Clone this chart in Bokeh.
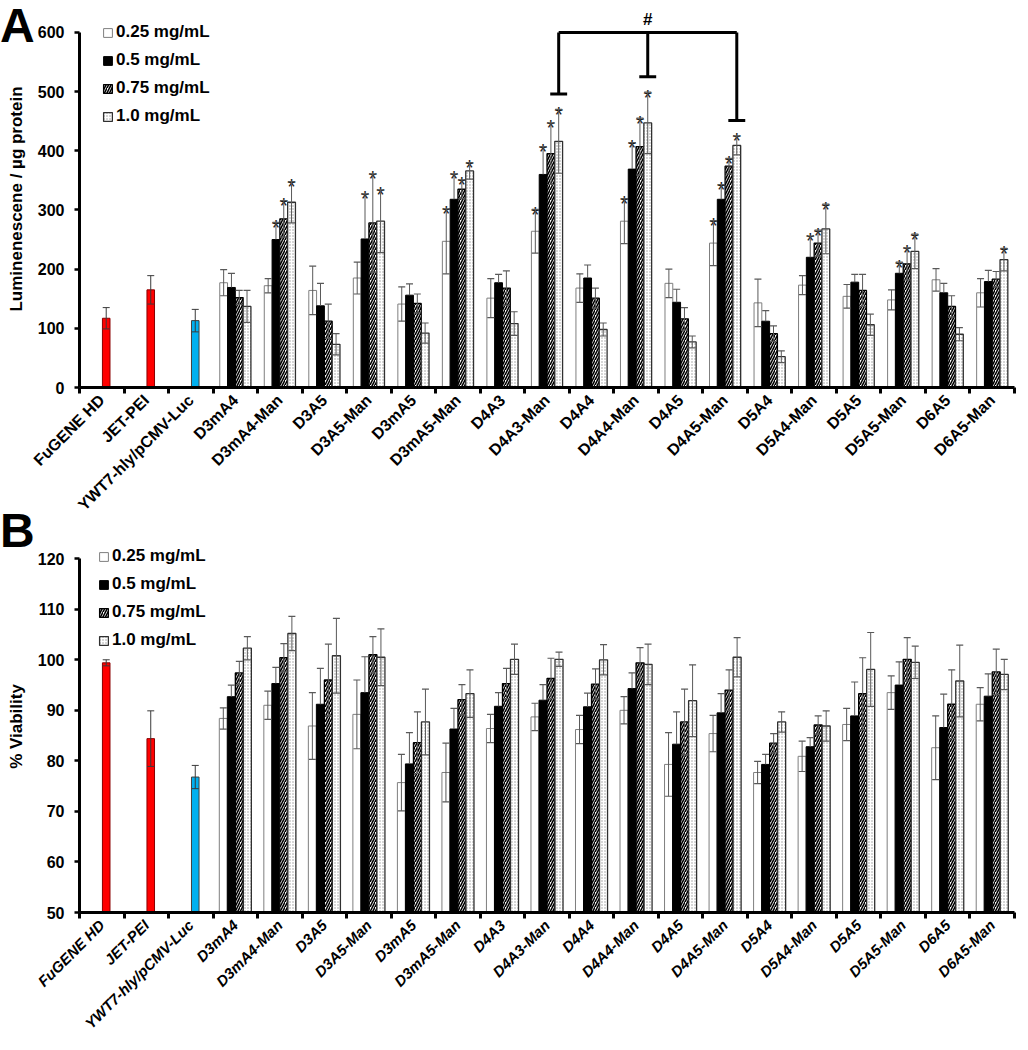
import numpy as np
from bokeh.plotting import figure
from bokeh.models import (Range1d, FixedTicker, Legend, LegendItem, Whisker, TeeHead,
                          ColumnDataSource, Label, Arrow, Div)
from bokeh.layouts import column
from bokeh.embed import file_html
from bokeh.resources import INLINE
from bokeh.core.properties import value

# ------------------------------------------------------------------ data
categories = ["FuGENE HD", "JET-PEI", "YWT7-hly/pCMV-Luc", "D3mA4", "D3mA4-Man", "D3A5",
              "D3A5-Man", "D3mA5", "D3mA5-Man", "D4A3", "D4A3-Man", "D4A4", "D4A4-Man",
              "D4A5", "D4A5-Man", "D5A4", "D5A4-Man", "D5A5", "D5A5-Man", "D6A5", "D6A5-Man"]
concentrations = ["0.25 mg/mL", "0.5 mg/mL", "0.75 mg/mL", "1.0 mg/mL"]
control_colors = ["#FF0000", "#FF0000", "#00B0F0"]
control_edges = ["#8B0000", "#8B0000", "#404040"]

# Panel A: luminescence / ug protein
lum_ctrl = [117, 165, 113]
lum_ctrl_err = [18, 24, 19]
lum_025 = [177, 172, 164, 185, 141, 247, 151, 264, 168, 281, 176, 244, 143, 173, 154, 148, 182, 160]
lum_025_err = [22, 12, 41, 27, 29, 55, 33, 37, 24, 38, 24, 38, 40, 16, 20, 17, 19, 24]
lum_05 = [169, 250, 138, 251, 156, 318, 177, 360, 185, 369, 144, 318, 112, 220, 178, 193, 160, 179]
lum_05_err = [24, 29, 38, 76, 19, 43, 14, 47, 22, 45, 22, 25, 18, 36, 13, 19, 16, 19]
lum_075 = [152, 285, 112, 278, 142, 335, 168, 395, 151, 407, 116, 374, 91, 244, 164, 209, 137, 183]
lum_075_err = [12, 31, 29, 83, 16, 16, 29, 52, 17, 48, 19, 13, 13, 22, 27, 27, 18, 13]
lum_10 = [137, 313, 73, 281, 92, 366, 108, 416, 98, 447, 77, 409, 52, 268, 106, 230, 90, 216]
lum_10_err = [27, 35, 18, 53, 17, 14, 20, 54, 11, 52, 10, 16, 10, 42, 18, 29, 11, 19]
lum_sig_025 = [0, 0, 0, 0, 0, 1, 0, 1, 0, 1, 0, 1, 0, 0, 0, 0, 0, 0]
lum_sig_05 = [0, 1, 0, 1, 0, 1, 0, 1, 0, 1, 0, 1, 0, 1, 0, 1, 0, 0]
lum_sig_075 = [0, 1, 0, 1, 0, 1, 0, 1, 0, 1, 0, 1, 0, 1, 0, 1, 0, 0]
lum_sig_10 = [0, 1, 0, 1, 0, 1, 0, 1, 0, 1, 0, 1, 0, 1, 0, 1, 0, 1]
lum_ticks = [0, 100, 200, 300, 400, 500, 600]
bracket_groups = ["D4A3-Man", "D4A4-Man", "D4A5-Man"]

# Panel B: % viability
via_ctrl = [99.4, 84.4, 76.8]
via_ctrl_err = [0.6, 5.5, 2.3]
via_025 = [88.4, 91.0, 86.9, 89.2, 75.7, 77.7, 86.4, 88.7, 86.2, 90.0, 79.3, 85.4, 77.7, 80.9, 87.2, 93.5, 82.6, 91.2]
via_025_err = [2.1, 2.8, 6.6, 6.8, 5.6, 5.8, 2.8, 2.7, 2.8, 2.7, 6.3, 3.6, 2.2, 3.0, 3.2, 3.3, 6.3, 3.3]
via_05 = [92.7, 95.3, 91.2, 93.5, 79.4, 86.3, 90.8, 92.0, 90.7, 94.3, 83.3, 89.5, 79.3, 82.8, 88.9, 95.0, 86.6, 92.8]
via_05_err = [2.3, 3.2, 7.1, 7.1, 6.2, 4.1, 2.7, 3.1, 2.7, 3.1, 6.4, 3.8, 2.0, 1.8, 6.7, 4.6, 6.6, 4.4]
via_075 = [97.4, 100.4, 96.0, 101.0, 83.6, 92.1, 95.3, 96.3, 95.2, 99.4, 87.7, 94.0, 83.5, 87.1, 93.3, 100.1, 91.2, 97.6]
via_075_err = [2.3, 2.8, 7.1, 3.6, 6.1, 3.0, 3.0, 4.0, 3.0, 3.0, 6.5, 4.0, 1.9, 1.8, 7.1, 4.3, 6.8, 4.5]
via_10 = [102.3, 105.2, 100.8, 100.5, 87.7, 93.3, 100.1, 100.1, 100.0, 99.1, 91.9, 100.5, 87.7, 86.9, 98.1, 99.5, 95.8, 97.1]
via_10_err = [2.3, 3.4, 7.4, 5.6, 6.5, 4.7, 3.0, 1.4, 3.0, 4.0, 7.1, 3.9, 2.0, 3.0, 7.3, 3.2, 7.1, 3.0]
via_ticks = [50, 60, 70, 80, 90, 100, 110, 120]

# ------------------------------------------------------------------ style
FONT = "Liberation Sans"
W = 1024
N = len(categories)
N_CTRL = len(lum_ctrl)
ERR_COL = "#595959"

series_styles = [
    dict(fill_color="white", line_color="#7f7f7f", line_width=1),
    dict(fill_color="black", line_color="black", line_width=1),
    dict(fill_color="white", line_color="black", line_width=1.3, hatch_pattern="/",
         hatch_color="black", hatch_scale=5, hatch_weight=1.6),
    dict(fill_color="white", line_color="#303030", line_width=1.3, hatch_pattern=".",
         hatch_color="#9a9a9a", hatch_scale=3, hatch_weight=1),
]


def panel(height, b_left, b_right, b_top, b_bottom, y_lo, y_hi, y_ticks, y_label,
          ctrl, ctrl_err, series, series_err, sigs, bar_w, ctrl_w, ctrl_shift,
          xlab_style, xlab_size, legend_xy, bracket=None):
    p = figure(width=W, height=height, x_range=Range1d(0, N), y_range=Range1d(y_lo, y_hi),
               output_backend="svg", toolbar_location=None, tools="",
               min_border_left=b_left, min_border_right=b_right,
               min_border_top=b_top, min_border_bottom=b_bottom)
    p.outline_line_color = None
    p.grid.visible = False
    p.background_fill_color = None
    p.border_fill_color = None

    # x axis: labels at category centres, tick marks at category boundaries
    xa = p.xaxis[0]
    xa.ticker = FixedTicker(ticks=[i + 0.5 for i in range(N)], minor_ticks=list(range(N + 1)))
    xa.major_label_overrides = {i + 0.5: c for i, c in enumerate(categories)}
    xa.major_label_orientation = np.pi / 4
    xa.major_tick_in = 0
    xa.major_tick_out = 0
    xa.minor_tick_in = 0
    xa.minor_tick_out = 6
    xa.minor_tick_line_width = 3
    xa.minor_tick_line_color = "black"
    xa.axis_line_width = 3
    xa.axis_line_color = "black"
    xa.major_label_standoff = 4
    xa.major_label_text_font = FONT
    xa.major_label_text_font_size = xlab_size
    xa.major_label_text_font_style = xlab_style
    xa.major_label_text_color = "black"

    ya = p.yaxis[0]
    ya.bounds = (y_ticks[0], y_ticks[-1])
    ya.ticker = FixedTicker(ticks=y_ticks, minor_ticks=[])
    ya.major_tick_in = 0
    ya.major_tick_out = 5
    ya.major_tick_line_width = 2.5
    ya.minor_tick_in = 0
    ya.minor_tick_out = 0
    ya.axis_line_width = 3
    ya.axis_line_color = "black"
    ya.major_label_standoff = 10
    ya.major_label_text_font = FONT
    ya.major_label_text_font_size = "16px"
    ya.major_label_text_font_style = "bold"
    ya.major_label_text_color = "black"
    ya.axis_label = y_label
    ya.axis_label_text_font = FONT
    ya.axis_label_text_font_size = "17px"
    ya.axis_label_text_font_style = "bold"
    ya.axis_label_text_color = "black"
    ya.axis_label_standoff = 9

    # control bars
    cx = [i + 0.5 + ctrl_shift for i in range(N_CTRL)]
    csrc = ColumnDataSource(dict(x=cx, top=ctrl, fc=control_colors, lc=control_edges))
    p.vbar(x="x", top="top", bottom=y_lo, width=ctrl_w, source=csrc,
           fill_color="fc", line_color="lc", line_width=1)
    cw = Whisker(source=ColumnDataSource(dict(b=cx, u=[v + e for v, e in zip(ctrl, ctrl_err)],
                                              l=[v - e for v, e in zip(ctrl, ctrl_err)])),
                 base="b", upper="u", lower="l", dimension="height",
                 line_color="#3a3a3a", line_width=1,
                 upper_head=TeeHead(size=7, line_color="#3a3a3a", line_width=1),
                 lower_head=TeeHead(size=7, line_color="#3a3a3a", line_width=1))
    cw.level = "overlay"
    p.add_layout(cw)

    renderers = []
    xs_all = []
    for k in range(4):
        xs = [N_CTRL + j + 0.5 + (k - 1.5) * bar_w for j in range(len(series[k]))]
        xs_all.append(xs)
        r = p.vbar(x=xs, top=series[k], bottom=y_lo, width=bar_w, **series_styles[k])
        renderers.append(r)
        ups = [v + e for v, e in zip(series[k], series_err[k])]
        lows = list(series[k]) if k == 1 else [v - e for v, e in zip(series[k], series_err[k])]
        w = Whisker(source=ColumnDataSource(dict(b=xs, u=ups, l=lows)),
                    base="b", upper="u", lower="l", dimension="height",
                    line_color=ERR_COL, line_width=1,
                    upper_head=TeeHead(size=7, line_color=ERR_COL, line_width=1.2),
                    lower_head=None if k == 1 else TeeHead(size=7, line_color=ERR_COL, line_width=1.2))
        w.level = "overlay"
        p.add_layout(w)
        if sigs is not None:
            sx = [x for x, s in zip(xs, sigs[k]) if s]
            sy = [u for u, s in zip(ups, sigs[k]) if s]
            p.text(x=sx, y=sy, text=["*"] * len(sx), text_align="center",
                   text_baseline="alphabetic", y_offset=5,
                   text_font=value(FONT), text_font_size="22px", text_color="#1a1a1a")

    legend = Legend(items=[LegendItem(label=concentrations[k], renderers=[renderers[k]]) for k in range(4)],
                    location=legend_xy, orientation="vertical",
                    glyph_width=11, glyph_height=11, label_height=20, spacing=8,
                    label_standoff=3, padding=0, margin=0,
                    border_line_color=None, background_fill_alpha=0,
                    label_text_font=FONT, label_text_font_size="17px",
                    label_text_font_style="bold", label_text_color="black")
    p.add_layout(legend)

    if bracket is not None:
        top = y_ticks[-1]
        idx = [categories.index(g) - N_CTRL for g in bracket]
        bx = [xs_all[3][i] for i in idx]
        caps = [series[3][i] + series_err[3][i] + 26 for i in idx]
        half = 0.19
        xs0 = [bx[0]] + bx + [x - half for x in bx]
        xs1 = [bx[-1]] + bx + [x + half for x in bx]
        ys0 = [top] + [top] * 3 + caps
        ys1 = [top] + caps + caps
        arr = Arrow(source=ColumnDataSource(dict(x0=xs0, y0=ys0, x1=xs1, y1=ys1)),
                    x_start="x0", y_start="y0", x_end="x1", y_end="y1",
                    start=None, end=None, line_color="black", line_width=3)
        p.add_layout(arr)
        p.add_layout(Label(x=bx[1], y=top, y_offset=3, text="#", text_align="center",
                           text_baseline="bottom", text_font=FONT, text_font_size="17px",
                           text_font_style="bold", text_color="black"))
    return p


HA = 522
HB = 524
pA = panel(HA, 79, 6, 10, 135, 0, 637, lum_ticks, "Luminenescene / µg protein",
           lum_ctrl, lum_ctrl_err, [lum_025, lum_05, lum_075, lum_10],
           [lum_025_err, lum_05_err, lum_075_err, lum_10_err],
           [lum_sig_025, lum_sig_05, lum_sig_075, lum_sig_10],
           0.175, 0.17, 0.1, "bold", "16px", (23, 261), bracket=bracket_groups)

pB = panel(HB, 70, 10, 18, 134, 50, 123.6, via_ticks, "% Viability",
           via_ctrl, via_ctrl_err, [via_025, via_05, via_075, via_10],
           [via_025_err, via_05_err, via_075_err, via_10_err],
           None, 0.18, 0.17, 0.1, "bold italic", "15px", (19, 262))

LETTER_STYLE = {"font-family": FONT, "font-size": "48px", "font-weight": "bold",
                "line-height": "1.15", "color": "black", "overflow": "visible"}
DIV_H = 60
divA = Div(text="A", width=70, height=DIV_H, styles=LETTER_STYLE,
           margin=(-HA - 2, 0, HA + 2 - DIV_H, 0))
divB = Div(text="B", width=70, height=DIV_H, styles=LETTER_STYLE,
           margin=(-HB - 19, 0, HB + 19 - DIV_H, 0))

layout = column(pA, divA, pB, divB, spacing=0)
open("out.html", "w").write(file_html(layout, INLINE))
